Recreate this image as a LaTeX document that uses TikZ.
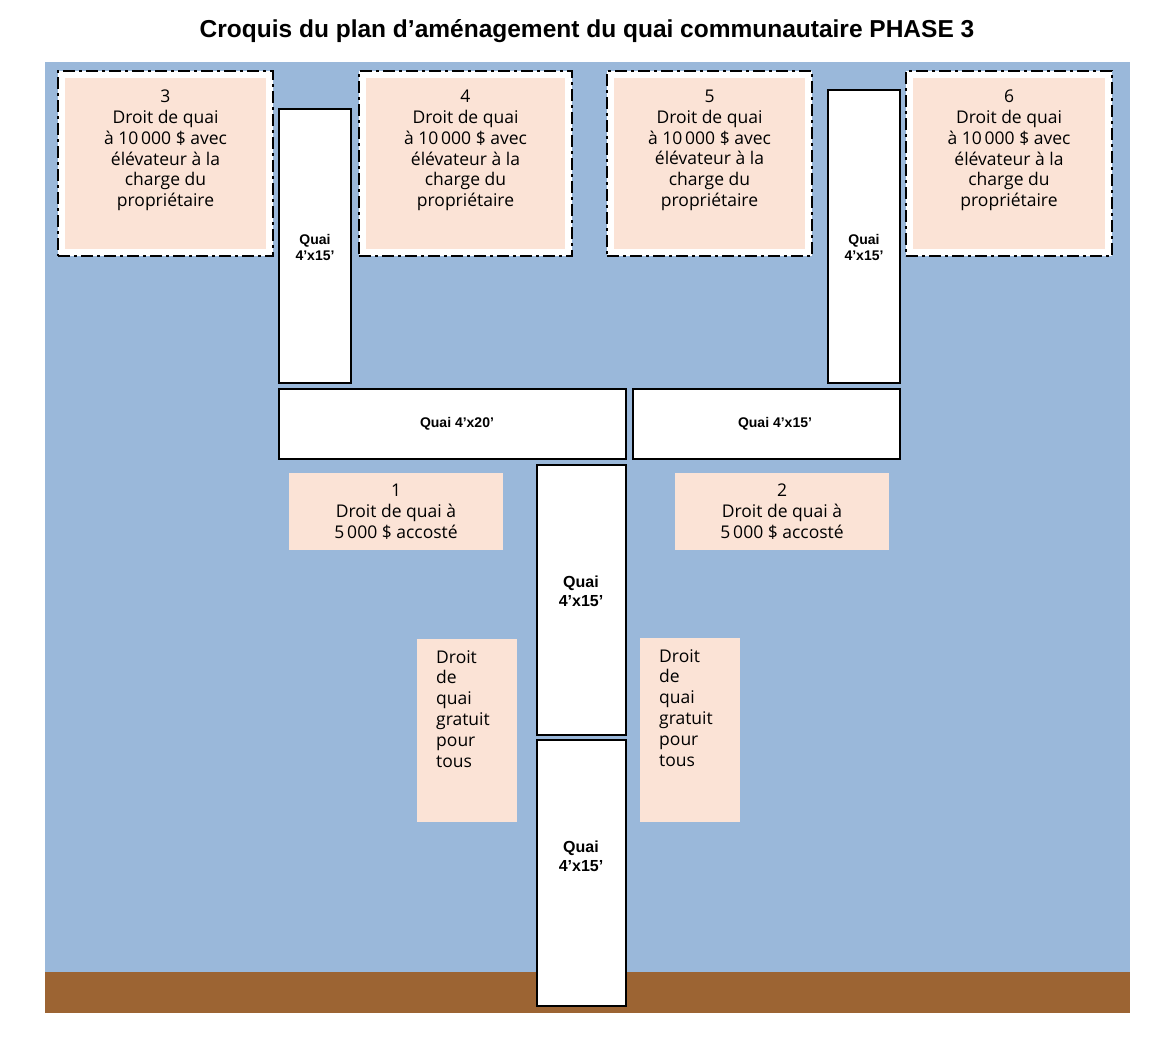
\documentclass[tikz,border=0pt]{standalone}
\usepackage{fontspec}
\setmainfont{Liberation Sans}
\newfontfamily\boxfont{Open Sans}
\usepackage{xcolor}
\definecolor{eau}{HTML}{9AB8DA}
\definecolor{terre}{HTML}{9C6433}
\definecolor{peche}{HTML}{FBE3D6}

\begin{document}
\begin{tikzpicture}[x=1pt,y=-1pt]
  \tikzset{
    Quai/.style = { rectangle, draw, line width=2pt, fill=white, inner sep=0pt},
    Etiquette/.style = { font=\fontsize{14}{16}\selectfont\bfseries, align=center, inner sep=0pt},
    Droit/.style = { rectangle, fill=peche, inner sep=0pt},
    Lot/.style = { rectangle, draw, fill=white, line width=2.3pt,
      dash pattern=on 12pt off 4pt on 3pt off 4pt, inner sep=0pt},
    Texte/.style = { font=\boxfont\fontsize{17.5}{20.8}\selectfont, align=center,
      inner sep=0pt}
  }
  \useasboundingbox (0,0) rectangle (1152,1042);
  \node[font=\fontsize{24.5}{28}\selectfont\bfseries] (titre) at (587,31)
    {Croquis du plan d’aménagement du quai communautaire PHASE 3};
  \fill[eau] (45,62) rectangle (1130,972);
  \fill[terre] (45,972) rectangle (1130,1013);

  % lots avec elevateur
  \foreach \nom/\cx/\w in {3/165.5/215, 4/465.5/213, 5/709.5/205, 6/1009/206}{
    \node[Lot, minimum width=\w pt, minimum height=185pt] (lot\nom) at (\cx,163.5) {};
    \node[Droit, minimum width=\w pt-14pt, minimum height=171pt] (droit\nom) at (lot\nom.center) {};
    \node[Texte, anchor=north] (texte\nom) at ([yshift=-20pt]lot\nom.north)
      {\nom\\Droit de quai\\à 10\,000 \$ avec\\élévateur à la\\charge du\\propriétaire};
  }

  % quais
  \node[Quai, minimum width=72pt, minimum height=274pt] (quaiA) at (315,246) {};
  \node[Quai, minimum width=72pt, minimum height=293pt] (quaiB) at (864,236.5) {};
  \node[Quai, minimum width=347pt, minimum height=70pt] (quaiC) at (452.5,424) {};
  \node[Quai, minimum width=267pt, minimum height=70pt] (quaiD) at (766.5,424) {};
  \node[Quai, minimum width=89pt, minimum height=270pt] (quaiE) at (581.5,600) {};
  \node[Quai, minimum width=89pt, minimum height=266pt] (quaiF) at (581.5,873) {};
  \node[Etiquette] (etiqA) at (315,247) {Quai\\4'x15'};
  \node[Etiquette] (etiqB) at (864,247) {Quai\\4'x15'};
  \node[Etiquette] (etiqC) at (457,424) {Quai 4'x20'};
  \node[Etiquette] (etiqD) at (775,424) {Quai 4'x15'};
  \node[Etiquette, font=\fontsize{16}{19}\selectfont\bfseries] (etiqE) at (581,591) {Quai\\4'x15'};
  \node[Etiquette, font=\fontsize{16}{19}\selectfont\bfseries] (etiqF) at (581,856) {Quai\\4'x15'};

  % droits accostes
  \node[Droit, minimum width=214pt, minimum height=77pt, Texte] (droit1) at (396,511.5)
    {1\\Droit de quai à\\5\,000 \$ accosté};
  \node[Droit, minimum width=214pt, minimum height=77pt, Texte] (droit2) at (782,511.5)
    {2\\Droit de quai à\\5\,000 \$ accosté};

  % droits gratuits
  \node[Droit, minimum width=100pt, minimum height=183pt] (gratuitG) at (467,730.5) {};
  \node[Texte, align=left, anchor=north west] (texteG) at (436,650)
    {Droit\\de\\quai\\gratuit\\pour\\tous};
  \node[Droit, minimum width=100pt, minimum height=184pt] (gratuitD) at (690,730) {};
  \node[Texte, align=left, anchor=north west] (texteD) at (659,649)
    {Droit\\de\\quai\\gratuit\\pour\\tous};
\end{tikzpicture}
\end{document}
